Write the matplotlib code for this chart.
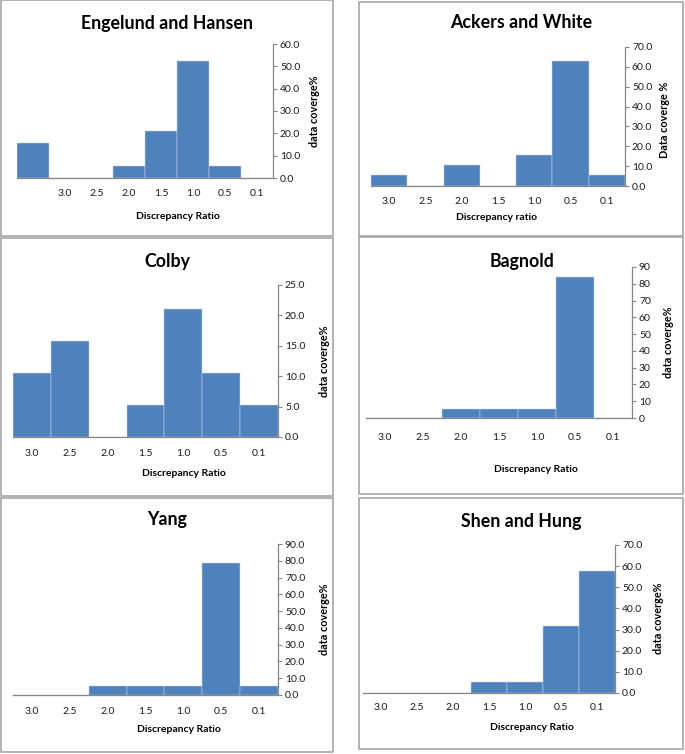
import numpy as np
import matplotlib
matplotlib.use('Agg')
import matplotlib.pyplot as plt
from matplotlib.patches import Rectangle

plt.rcParams['font.family'] = ['Lato', 'DejaVu Sans']

W, H = 685, 754
bar_color = '#4f81bd'
axis_gray = '#868686'

cats7 = ['3.0', '2.5', '2.0', '1.5', '1.0', '0.5', '0.1']
cats8 = [''] + cats7

# data coverage % per discrepancy-ratio class
eh_vals = [15.8, 0, 0, 5.3, 21.1, 52.6, 5.3, 0]
aw_vals = [5.3, 0, 10.5, 0, 15.8, 63.2, 5.3]
colby_vals = [10.5, 15.8, 0, 5.3, 21.1, 10.5, 5.3]
bagnold_vals = [0, 0, 5.3, 5.3, 5.3, 84.2, 0]
yang_vals = [0, 0, 5.3, 5.3, 5.3, 78.9, 5.3]
sh_vals = [0, 0, 0, 5.3, 5.3, 31.6, 57.9]

# (title, cats, values, ymax, ystep, fmt, xlabel, ylabel)
panels = [
    ('Engelund and Hansen', cats8, eh_vals, 60, 10, '%.1f', 'Discrepancy Ratio', 'data coverge%'),
    ('Ackers and White', cats7, aw_vals, 70, 10, '%.1f', 'Discrepancy ratio', 'Data coverge %'),
    ('Colby', cats7, colby_vals, 25, 5, '%.1f', 'Discrepancy Ratio', 'data coverge%'),
    ('Bagnold', cats7, bagnold_vals, 90, 10, '%d', 'Discrepancy Ratio', 'data coverge%'),
    ('Yang', cats7, yang_vals, 90, 10, '%.1f', 'Discrepancy Ratio', 'data coverge%'),
    ('Shen and Hung', cats7, sh_vals, 70, 10, '%.1f', 'Discrepancy Ratio', 'data coverge%'),
]

# pixel layout: border box, axes box, title xy, xlabel xy, ylabel xy, tick label offset
layout = [
    ((1, 0, 333, 236), (17, 44, 273, 178), (167, 23), (178, 216), (315, 111), 15),
    ((359, 2, 683, 236), (371, 47, 625, 186), (521, 23), (497, 218), (665, 120), 16),
    ((1, 238, 333, 496), (13, 285, 278, 437), (167, 262), (184, 473), (325, 361), 17),
    ((359, 237, 683, 494), (366, 267, 632, 418), (522, 262), (536, 470), (668, 342), 19),
    ((1, 498, 333, 752), (13, 544, 278, 695), (167, 520), (179, 729), (325, 619), 16),
    ((359, 498, 683, 749), (363, 545, 615, 693), (521, 522), (532, 727), (658, 618), 15),
]

fig = plt.figure(figsize=(W / 100, H / 100), dpi=100)

def fx(x):
    return x / W

def fy(y):
    return 1 - y / H

for (title, cats, vals, ymax, ystep, fmt, xlab, ylab), (box, axbox, tpos, xpos, ypos, toff) in zip(panels, layout):
    bx0, by0, bx1, by1 = box
    fig.patches.append(Rectangle((fx(bx0), fy(by1)), (bx1 - bx0) / W, (by1 - by0) / H,
                                 transform=fig.transFigure, fill=False,
                                 edgecolor='#a6a6a6', linewidth=1.2))
    x0, y0, x1, y1 = axbox
    ax = fig.add_axes([fx(x0), fy(y1), (x1 - x0) / W, (y1 - y0) / H])
    x = np.arange(len(cats))
    ax.bar(x, vals, width=1.0, color=bar_color, edgecolor='#c9d7ea', linewidth=0.35)
    ax.set_xlim(-0.5, len(cats) - 0.5)
    ax.set_ylim(0, ymax)
    ax.set_xticks(x)
    ax.set_xticklabels(cats)
    ax.set_yticks(np.arange(0, ymax + ystep / 2, ystep))
    ax.set_yticklabels([fmt % v for v in np.arange(0, ymax + ystep / 2, ystep)])
    ax.yaxis.tick_right()
    for s in ['top', 'left']:
        ax.spines[s].set_visible(False)
    for s in ['right', 'bottom']:
        ax.spines[s].set_color(axis_gray)
        ax.spines[s].set_linewidth(0.9)
    ax.tick_params(axis='x', length=0, pad=(toff - 4.5) * 0.72, labelsize=7.5, colors='#1a1a1a')
    ax.tick_params(axis='y', direction='out', length=3, width=0.8, color=axis_gray,
                   pad=2, labelsize=7.5, labelcolor='#1a1a1a')
    fig.text(fx(tpos[0]), fy(tpos[1]), title, ha='center', va='center',
             fontsize=12.8, fontweight='bold')
    fig.text(fx(xpos[0]), fy(xpos[1]), xlab, ha='center', va='center',
             fontsize=7.5, fontweight='bold')
    fig.text(fx(ypos[0]), fy(ypos[1]), ylab, ha='center', va='center',
             rotation=90, fontsize=7.8, fontweight='bold')

fig.savefig('out.png', dpi=100)
